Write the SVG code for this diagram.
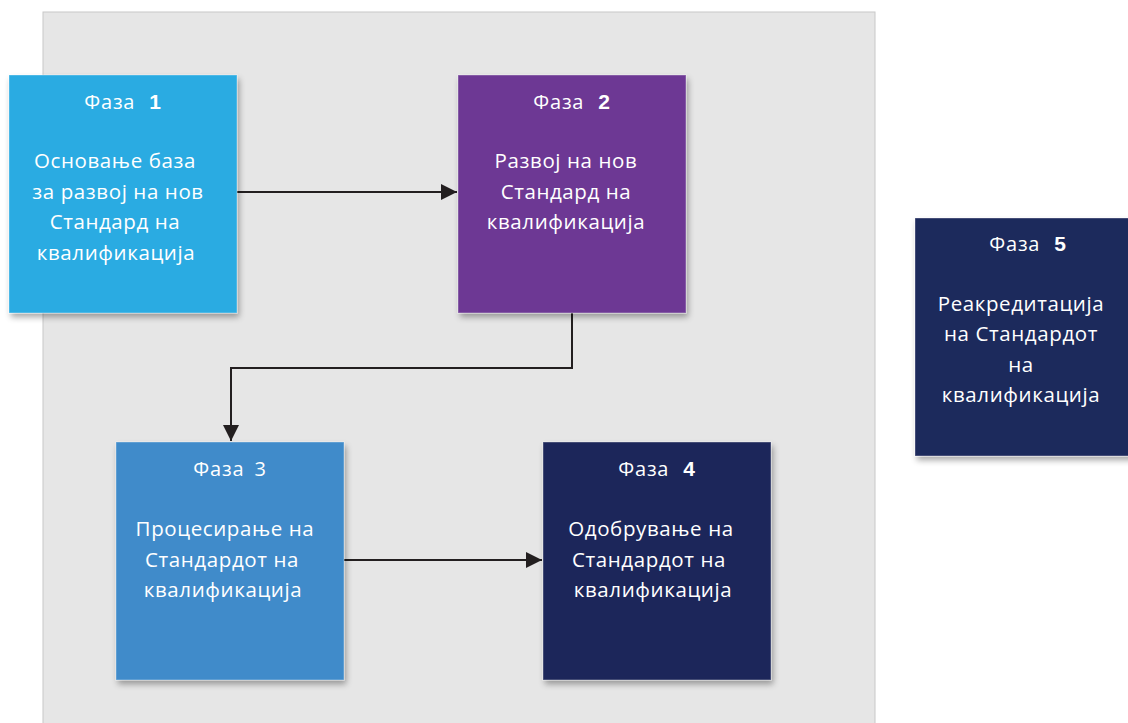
<svg xmlns="http://www.w3.org/2000/svg" width="1128" height="723" viewBox="0 0 1128 723">
<defs>
<filter id="sh" x="-10%" y="-10%" width="125%" height="125%">
<feGaussianBlur in="SourceAlpha" stdDeviation="3"/>
<feOffset dx="2" dy="4" result="b"/>
<feComponentTransfer><feFuncA type="linear" slope="0.35"/></feComponentTransfer>
<feMerge><feMergeNode/><feMergeNode in="SourceGraphic"/></feMerge>
</filter>
<marker id="ah" viewBox="0 0 10 10" refX="10" refY="5" markerWidth="16" markerHeight="16" markerUnits="userSpaceOnUse" orient="auto">
<path d="M0,0 L10,5 L0,10 Z" fill="#231f20"/>
</marker>
<style>
.box{stroke:#ffffff;stroke-opacity:0.35;stroke-width:1;filter:url(#sh)}
text{font-family:"Open Sans","Noto Sans","DejaVu Sans",sans-serif;fill:#ffffff;text-anchor:middle}
.t{font-size:20px;letter-spacing:0.8px}
.b{font-size:20.5px;letter-spacing:0.6px}
.n{font-family:"Liberation Sans",Arial,sans-serif;font-weight:bold;font-size:21px}
.c{fill:none;stroke:#231f20;stroke-width:2}
</style>
</defs>
<rect x="43" y="12" width="832" height="720" fill="#e6e6e6" stroke="#c8c8c8" stroke-width="1"/>
<g id="connectors">
<line class="c" x1="237" y1="192" x2="457" y2="192" marker-end="url(#ah)"/>
<polyline class="c" points="572,313 572,368 231,368 231,441" marker-end="url(#ah)"/>
<line class="c" x1="344" y1="560" x2="542" y2="560" marker-end="url(#ah)"/>
</g>
<g id="phase1">
<rect class="box" x="9" y="75" width="228" height="238" fill="#29abe2"/>
<text class="t" x="123" y="109">Фаза <tspan class="n" dx="8">1</tspan></text>
<text class="b" x="115" y="168">Основање база</text>
<text class="b" x="118" y="199">за развој на нов</text>
<text class="b" x="115" y="229">Стандард на</text>
<text class="b" x="116" y="260">квалификација</text>
</g>
<g id="phase2">
<rect class="box" x="458" y="75" width="228" height="238" fill="#6d3994"/>
<text class="t" x="572" y="109">Фаза <tspan class="n" dx="8">2</tspan></text>
<text class="b" x="566" y="168">Развој на нов</text>
<text class="b" x="566" y="199">Стандард на</text>
<text class="b" x="566" y="229">квалификација</text>
</g>
<g id="phase3">
<rect class="box" x="116" y="442" width="228" height="238" fill="#418bca"/>
<text class="t" x="230" y="476">Фаза <tspan dx="4">3</tspan></text>
<text class="b" x="225" y="536">Процесирање на</text>
<text class="b" x="222" y="567">Стандардот на</text>
<text class="b" x="223" y="597">квалификација</text>
</g>
<g id="phase4">
<rect class="box" x="543" y="442" width="228" height="238" fill="#1e285a"/>
<text class="t" x="657" y="476">Фаза <tspan class="n" dx="8">4</tspan></text>
<text class="b" x="651" y="536">Одобрување на</text>
<text class="b" x="649" y="567">Стандардот на</text>
<text class="b" x="653" y="597">квалификација</text>
</g>
<g id="phase5">
<rect class="box" x="915" y="218" width="220" height="238" fill="#1f2a5c"/>
<text class="t" x="1028" y="251">Фаза <tspan class="n" dx="8">5</tspan></text>
<text class="b" x="1021" y="311">Реакредитација</text>
<text class="b" x="1021" y="341">на Стандардот</text>
<text class="b" x="1021" y="372">на</text>
<text class="b" x="1021" y="402">квалификација</text>
</g>
</svg>
